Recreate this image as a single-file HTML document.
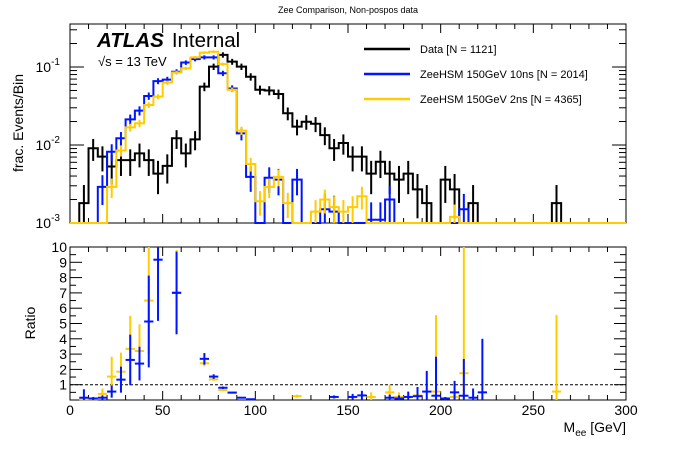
<!DOCTYPE html>
<html><head><meta charset="utf-8"><style>
body{margin:0;background:#fff;}
svg{display:block;font-family:"Liberation Sans",sans-serif;}
</style></head><body>
<svg id="c" width="696" height="472" viewBox="0 0 696 472"></svg>
<script>
const binWidth=5;
const dataVals=[0,0.0018,0.0091,0.0071,0.0053,0.0064,0.0064,0.0078,0.0064,0.0043,0.0054,0.0122,0.0078,0.0118,0.056,0.101,0.143,0.117,0.101,0.075,0.051,0.050,0.045,0.0255,0.0172,0.0199,0.0187,0.0134,0.0091,0.0106,0.0071,0.0071,0.0043,0.0061,0.0043,0.0036,0.0043,0.0027,0.0018,0,0.0036,0.0027,0,0.0018,0,0,0,0,0,0,0,0,0.0018,0,0,0,0,0,0,0];
const blueVals=[0,0,0,0.0029,0.0082,0.0122,0.0213,0.0276,0.0425,0.066,0.069,0.087,0.114,0.126,0.133,0.133,0.083,0.053,0.0141,0.0039,0,0.0038,0.0036,0,0.0036,0,0,0.0015,0.0014,0,0,0,0.0011,0.0011,0.002,0,0,0,0,0,0,0,0.0015,0,0,0,0,0,0,0,0,0,0,0,0,0,0,0,0,0];
const yellowVals=[0,0,0,0,0.0029,0.0085,0.0168,0.019,0.0326,0.0417,0.063,0.085,0.096,0.133,0.153,0.157,0.109,0.051,0.0153,0.0057,0.0019,0.0029,0.0039,0.0018,0,0,0.0014,0.002,0.0016,0.0014,0.0016,0.0022,0,0,0,0,0,0,0,0,0,0.0012,0,0,0,0,0,0,0,0,0,0,0,0,0,0,0,0,0,0];
const dataN=1121, blueN=2014, yellowN=4365;
const blueRatioX=[7.5,12.5,17.5,22.5,27.5,32.5,37.5,42.5,47.5,57.5,72.5,77.5,82.5,87.5,92.5,97.5,142.5,152.5,157.5,172.5,177.5,182.5,187.5,192.5,197.5,202.5,207.5,212.5,217.5,222.5];
const blueRatio=[0.15,0.1,0.15,0.55,1.33,2.62,2.38,5.13,9.17,7.0,2.69,1.53,0.8,0.48,0.15,0.05,0.2,0.2,0.3,0.15,0.1,0.2,0.25,0.55,0.28,0.1,0.5,0.28,0.15,0.5];
const blueRatioErr=[0.55,0.1,0.15,0.4,0.85,1.65,1.1,3.0,4.0,2.7,0.38,0.15,0.08,0.05,0.05,0.02,0.1,0.2,0.3,0.2,0.2,0.35,0.6,1.35,2.55,0.1,0.75,2.4,0.6,3.5];
const yellowRatioX=[7.5,12.5,17.5,22.5,27.5,32.5,37.5,42.5,57.5,72.5,77.5,82.5,87.5,122.5,162.5,172.5,177.5,187.5,197.5,207.5,212.5,262.5];
const yellowRatio=[0.05,0.05,0.4,1.53,1.85,3.34,3.2,6.5,7.05,2.4,1.35,0.65,0.5,0.25,0.2,0.5,0.2,0.3,0.55,0.2,1.75,0.55];
const yellowRatioErr=[0.05,0.1,0.35,1.3,1.25,2.16,1.75,3.5,2.75,0.2,0.1,0.08,0.05,0.1,0.3,0.5,0.3,0.5,5.0,0.3,8.5,5.0];
const xTicks=[0,50,100,150,200,250,300];

const svg=document.getElementById('c');
const NS='http://www.w3.org/2000/svg';
function mk(t,a,p){const e=document.createElementNS(NS,t);for(const k in a)e.setAttribute(k,a[k]);(p||svg).appendChild(e);return e;}
const X0=70,X1=626,T0=24,T1=223,R0=247,R1=400;
const LMIN=-3, LMAX=-3+(T1-T0)/78;
const xs=v=>X0+(v/300)*(X1-X0);
const ys=v=>{if(v<=0)return T1;const l=Math.log10(v);return T1-(Math.max(l,LMIN)-LMIN)/(LMAX-LMIN)*(T1-T0);};
const yr=v=>R1-Math.min(v,10)/10*(R1-R0);

let t=mk('text',{x:348,y:13,'font-size':9,'text-anchor':'middle'});t.textContent='Zee Comparison, Non-pospos data';


let f=mk('rect',{x:X0,y:T0,width:X1-X0,height:T1-T0,fill:'none',stroke:'#000','stroke-width':1});

f=mk('rect',{x:X0,y:R0,width:X1-X0,height:R1-R0,fill:'none',stroke:'#000','stroke-width':1});


for(let v=0;v<=300;v+=10){
  const x=xs(v),L=v%50===0?9:5;
  mk('line',{x1:x,y1:T1,x2:x,y2:T1-L,stroke:'#000'});
  mk('line',{x1:x,y1:T0,x2:x,y2:T0+L,stroke:'#000'});
  mk('line',{x1:x,y1:R1,x2:x,y2:R1-L,stroke:'#000'});
  mk('line',{x1:x,y1:R0,x2:x,y2:R0+L,stroke:'#000'});
}
xTicks.forEach(v=>{const e=mk('text',{x:xs(v),y:415,'font-size':14,'text-anchor':'middle'});e.textContent=v;
});
t=mk('text',{x:X1,y:432,'font-size':14,'text-anchor':'end'});
t.innerHTML='M<tspan font-size="10" dy="4">ee</tspan><tspan dy="-4"> [GeV]</tspan>';


for(let d=-3;d<0;d++){for(let m=1;m<10;m++){const v=m*Math.pow(10,d);const l=Math.log10(v);if(l>LMAX)continue;
  const y=ys(v),L=m===1?14:7;
  mk('line',{x1:X0,y1:y,x2:X0+L,y2:y,stroke:'#000'});mk('line',{x1:X1,y1:y,x2:X1-L,y2:y,stroke:'#000'});
  if(m===1){const e=mk('text',{x:60,y:y+5,'font-size':14,'text-anchor':'end'});e.innerHTML='10<tspan font-size="10" dy="-7">'+d+'</tspan>';
  }
}}
t=mk('text',{x:0,y:0,'font-size':14,'text-anchor':'middle',transform:'translate(23,123) rotate(-90)'});t.textContent='frac. Events/Bin';


for(let v=0;v<=10;v+=0.5){const y=yr(v),L=v%1===0?12:6;
  mk('line',{x1:X0,y1:y,x2:X0+L,y2:y,stroke:'#000'});mk('line',{x1:X1,y1:y,x2:X1-L,y2:y,stroke:'#000'});
  if(v>=1&&v%1===0){const e=mk('text',{x:67,y:y+5,'font-size':14,'text-anchor':'end'});e.textContent=v;
  }}
t=mk('text',{x:0,y:0,'font-size':14,'text-anchor':'middle',transform:'translate(35,323) rotate(-90)'});t.textContent='Ratio';

let dl=mk('line',{x1:X0,y1:yr(1),x2:X1,y2:yr(1),stroke:'#000','stroke-dasharray':'3,2'});


function hist(vals,N,color,name){
  const g=mk('g',{});
  let d='M'+xs(0)+','+ys(vals[0]);
  vals.forEach((v,i)=>{const y=ys(v);d+=' L'+xs(i*binWidth)+','+y+' L'+xs((i+1)*binWidth)+','+y;});
  const p=mk('path',{d:d,fill:'none',stroke:color,'stroke-width':2},g);
  
  vals.forEach((v,i)=>{if(v<=0)return;const e=v/Math.sqrt(v*N);const x=xs((i+0.5)*binWidth);
    const l=mk('line',{x1:x,y1:ys(v+e),x2:x,y2:ys(Math.max(v-e,1e-4)),stroke:color,'stroke-width':2},g);
    });
}
hist(dataVals,dataN,'#000','data-hist');
hist(blueVals,blueN,'#0015ff','zeehsm-10ns-hist');
hist(yellowVals,yellowN,'#ffcc00','zeehsm-2ns-hist');

function ratio(xv,rv,ev,color,name){
  const g=mk('g',{});
  xv.forEach((xx,i)=>{const x=xs(xx),y=yr(rv[i]);
    const a=mk('line',{x1:xs(xx-2.5),y1:y,x2:xs(xx+2.5),y2:y,stroke:color,'stroke-width':2},g);
    
    const b=mk('line',{x1:x,y1:yr(rv[i]+ev[i]),x2:x,y2:yr(Math.max(rv[i]-ev[i],0)),stroke:color,'stroke-width':2},g);
    });
}
ratio(yellowRatioX,yellowRatio,yellowRatioErr,'#ffcc00','ratio-2ns');
ratio(blueRatioX,blueRatio,blueRatioErr,'#0015ff','ratio-10ns');

t=mk('text',{x:97,y:47,'font-size':20.5});t.innerHTML='<tspan font-weight="bold" font-style="italic">ATLAS</tspan><tspan dx="8">Internal</tspan>';

t=mk('text',{x:98,y:66,'font-size':13});t.textContent='√s = 13 TeV';


const leg=[['Data [N = 1121]','#000',49],['ZeeHSM 150GeV 10ns [N = 2014]','#0015ff',74],['ZeeHSM 150GeV 2ns [N = 4365]','#ffcc00',99]];
leg.forEach(l=>{const g=mk('g',{});
  mk('line',{x1:364,y1:l[2],x2:410,y2:l[2],stroke:l[1],'stroke-width':2.5},g);
  const e=mk('text',{x:420,y:l[2]+4,'font-size':11},g);e.textContent=l[0];});
</script>
</body></html>
